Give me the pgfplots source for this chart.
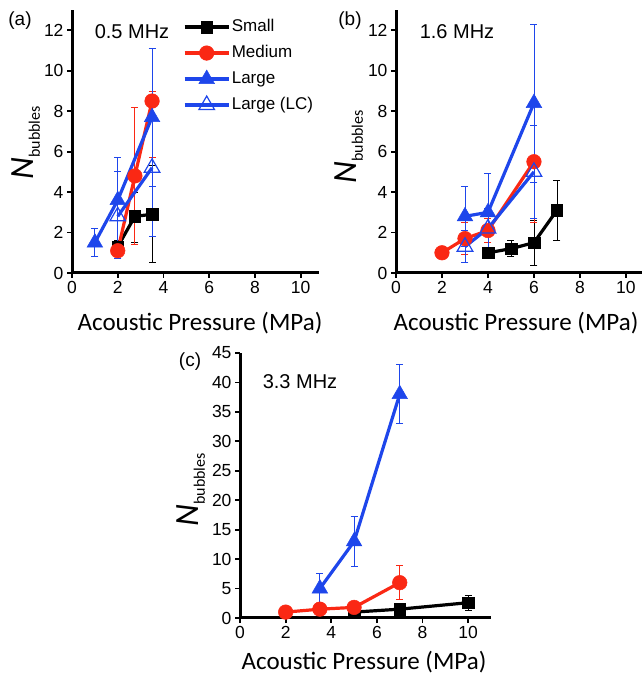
\documentclass[border=0pt]{standalone}
\usepackage{fontspec}
\setmainfont{Liberation Sans}
\newfontfamily\calfont{Carlito}
\usepackage{pgfplots}
\pgfplotsset{compat=1.18}
\definecolor{bubRed}{RGB}{250,40,20}
\definecolor{bubBlue}{RGB}{30,70,235}
\pgfplotsset{
  panel/.style={
    scale only axis,
    anchor=south west,
    axis lines=left,
    axis line style={-, line width=3pt, black},
    xmin=0, ymin=0,
    xtick={0,2,...,10},
    tick style={black, line width=1.8pt},
    tick align=outside,
    major tick length=5pt,
    tick label style={font=\fontsize{17.5}{17.5}\selectfont},
    /pgf/number format/assume math mode=true,
    clip=false,
    every axis plot/.append style={line width=3.2pt},
    legend cell align=left,
  },
  eb/.style={
    error bars/y dir=both,
    error bars/y explicit,
    error bars/error bar style={line width=0.8pt, #1},
    error bars/error mark options={rotate=90, mark size=3.5pt, line width=0.8pt, #1},
  },
  sSmall/.style={black, mark=square*, mark size=5.8pt, mark options={solid, line width=0.5pt}, eb=black},
  sMedium/.style={bubRed, mark=*, mark size=7.3pt, mark options={solid, line width=0.5pt}, eb=bubRed},
  sLarge/.style={bubBlue, mark=triangle*, mark size=9pt, mark options={solid, line width=0.5pt}, eb=bubBlue},
  sLC/.style={bubBlue, mark=triangle, mark size=9pt, mark options={solid, fill=white, line width=1.2pt}, eb=bubBlue},
}
\begin{document}
\begin{tikzpicture}[x=1pt, y=1pt]
\path[use as bounding box] (0,0) rectangle (642,676);

% (a) 0.5 MHz
\begin{axis}[panel, at={(72pt,403pt)}, width=247pt, height=263pt,
  xmax=10.8, ymax=13, ytick={0,2,...,12},
  legend style={at={(axis description cs:0.449,0.972)}, anchor=north west,
    draw=none, fill=none, font=\fontsize{17}{17}\selectfont,
    row sep=7pt, inner sep=0pt,
    nodes={inner sep=1.5pt, text height=12.5pt, text depth=3.5pt}},
  legend image code/.code={\draw[mark repeat=2, mark phase=2, #1]
    plot coordinates {(0pt,0pt) (22pt,0pt) (44pt,0pt)};}]
\addplot+[sSmall] coordinates {(2,1.3) +- (0,0.3) (2.75,2.8) += (0,1.2) -= (0,1.3) (3.5,2.9) +- (0,2.4)};
\addlegendentry{Small}
\addplot+[sMedium] coordinates {(2,1.1) +- (0,0.4) (2.75,4.8) +- (0,3.4) (3.5,8.5) += (0,0.5) -= (0,2.8)};
\addlegendentry{Medium}
\addplot+[sLarge] coordinates {(1,1.5) +- (0,0.7) (2,3.6) += (0,2.1) -= (0,2.9) (3.5,7.7) +- (0,3.4)};
\addlegendentry{Large}
\addplot+[sLC] coordinates {(2,2.8) += (0,2.2) -= (0,2.1) (3.5,5.2) +- (0,3.4)};
\addlegendentry{Large (LC)}
\end{axis}

% (b) 1.6 MHz
\begin{axis}[panel, at={(396pt,403pt)}, width=246pt, height=263pt,
  xmax=10.7, ymax=13, ytick={0,2,...,12}]
\addplot+[sSmall] coordinates {(4,1.0) +- (0,0.2) (5,1.2) +- (0,0.4) (6,1.5) +- (0,1.1) (7,3.1) +- (0,1.5)};
\addplot+[sMedium] coordinates {(2,1.0) +- (0,0) (3,1.7) +- (0,0.8) (4,2.1) +- (0,0.6) (6,5.5) +- (0,3.0)};
\addplot+[sLarge] coordinates {(3,2.8) +- (0,1.5) (4,3.0) +- (0,1.9) (6,8.4) +- (0,3.9)};
\addplot+[sLC] coordinates {(3,1.3) +- (0,0.8) (4,2.2) +- (0,1.0) (6,5.0) +- (0,2.3)};
\end{axis}

% (c) 3.3 MHz
\begin{axis}[panel, at={(240pt,58pt)}, width=251pt, height=265pt,
  xmax=11, ymax=45, ytick={0,5,...,45}]
\addplot+[sSmall] coordinates {(5,1.0) +- (0,0.5) (7,1.5) +- (0,0.5) (10,2.6) +- (0,1.3)};
\addplot+[sMedium] coordinates {(2,1.0) +- (0,0.3) (3.5,1.5) +- (0,0.5) (5,1.8) +- (0,0.8) (7,6.0) +- (0,2.9)};
\addplot+[sLarge] coordinates {(3.5,5.0) +- (0,2.5) (5,13) +- (0,4.2) (7,38) +- (0,5.0)};
\end{axis}

% labels
\node[font=\fontsize{19}{19}\selectfont] at (20,655) {(a)};
\node[font=\fontsize{19}{19}\selectfont] at (350,655) {(b)};
\node[font=\fontsize{19}{19}\selectfont] at (190,314) {(c)};
\node[font=\fontsize{20}{20}\selectfont] at (132,644) {0.5 MHz};
\node[font=\fontsize{20}{20}\selectfont] at (457,644) {1.6 MHz};
\node[font=\fontsize{20}{20}\selectfont] at (300,294) {3.3 MHz};
\node[font=\calfont\fontsize{25}{25}\selectfont] at (200,353) {Acoustic Pressure (MPa)};
\node[font=\calfont\fontsize{25}{25}\selectfont] at (516,353) {Acoustic Pressure (MPa)};
\node[font=\calfont\fontsize{25}{25}\selectfont] at (364,14) {Acoustic Pressure (MPa)};
\node[rotate=90, font=\calfont] at (26,533) {\fontsize{34}{34}\selectfont\itshape N\fontsize{16}{16}\selectfont\upshape\raisebox{-6pt}{bubbles}};
\node[rotate=90, font=\calfont] at (349,529) {\fontsize{34}{34}\selectfont\itshape N\fontsize{16}{16}\selectfont\upshape\raisebox{-6pt}{bubbles}};
\node[rotate=90, font=\calfont] at (191,186) {\fontsize{34}{34}\selectfont\itshape N\fontsize{16}{16}\selectfont\upshape\raisebox{-6pt}{bubbles}};
\end{tikzpicture}
\end{document}
